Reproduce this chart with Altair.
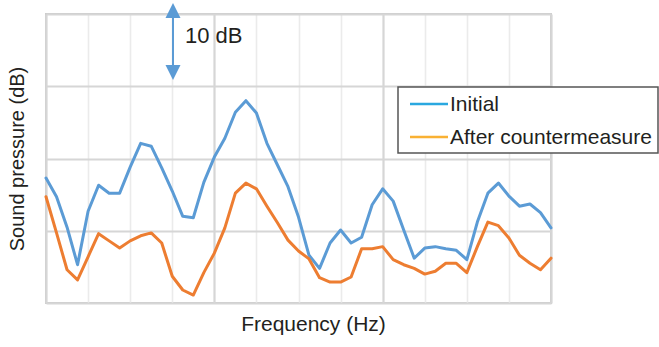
import altair as alt
import pandas as pd

freq_index = list(range(49))
initial_db = [17.3, 14.7, 10.5, 5.3, 12.7, 16.3, 15.2, 15.2, 18.8, 22.1, 21.7, 18.7, 15.5,
              12.0, 11.8, 16.7, 20.2, 22.8, 26.4, 28.0, 26.3, 22.1, 19.1, 16.1, 11.9,
              6.6, 4.8, 8.3, 10.1, 8.3, 9.1, 13.6, 15.8, 14.1, 10.1, 6.2, 7.6, 7.8,
              7.5, 7.3, 6.0, 11.2, 15.2, 16.6, 14.8, 13.4, 13.7, 12.5, 10.4]
after_db = [14.7, 9.7, 4.6, 3.2, 6.4, 9.6, 8.6, 7.6, 8.6, 9.3, 9.7, 8.3, 3.7,
            1.8, 1.1, 4.2, 6.9, 10.4, 15.2, 16.6, 15.8, 13.4, 11.1, 8.7, 7.2,
            6.1, 3.5, 2.9, 2.9, 3.6, 7.5, 7.5, 7.8, 6.0, 5.3, 4.8, 4.0, 4.4,
            5.5, 5.5, 4.2, 7.8, 11.2, 10.7, 9.0, 6.6, 5.5, 4.6, 6.2]
series_names = ["Initial", "After countermeasure"]
line_colors = ["#5b9bd5", "#ed7d31"]
legend_colors = ["#2aa8e0", "#f9b133"]
x_grid_values = list(range(0, 49, 4))
y_grid_values = [0, 10, 20, 30, 40]
scale_label = "10 dB"

FONT = "Liberation Sans"
TXT = "#231f20"

df = pd.DataFrame({
    "f": freq_index * 2,
    "db": initial_db + after_db,
    "series": [series_names[0]] * len(initial_db) + [series_names[1]] * len(after_db),
})

x_scale = alt.Scale(domain=[0, 48], nice=False, zero=False)
y_scale = alt.Scale(domain=[0, 40], nice=False)

lines = alt.Chart(df).mark_line(strokeWidth=3, strokeJoin="round", strokeCap="round").encode(
    x=alt.X("f:Q", scale=x_scale,
            axis=alt.Axis(values=x_grid_values, labels=False, ticks=False, domain=False, grid=True,
                          gridColor={"condition": {"test": "datum.value % 16 == 0", "value": "#d6d6d6"},
                                     "value": "#ebebeb"},
                          gridWidth={"condition": {"test": "datum.value % 16 == 0", "value": 2.2},
                                     "value": 1.6},
                          title="Frequency (Hz)", titleX=267, titleAlign="center",
                          titlePadding=10, titleFont=FONT, titleFontSize=21,
                          titleFontWeight="normal", titleColor=TXT)),
    y=alt.Y("db:Q", scale=y_scale,
            axis=alt.Axis(values=y_grid_values, labels=False, ticks=False, domain=False, grid=True,
                          gridColor="#d6d6d6", gridWidth=2.2,
                          title="Sound pressure (dB)", titlePadding=19, titleFont=FONT,
                          titleFontSize=20, titleFontWeight="normal", titleColor=TXT)),
    color=alt.Color("series:N", scale=alt.Scale(domain=series_names, range=line_colors), legend=None),
    detail="series:N",
)

one = alt.Data(values=[{}])

# legend box
box = alt.Chart(one).mark_rect(fill="white", stroke="#555555", strokeWidth=1.5).encode(
    x=alt.value(352), x2=alt.value(612), y=alt.value(73), y2=alt.value(139))
leg_parts = [box]
for i, (name, col) in enumerate(zip(series_names, legend_colors)):
    yy = 90 + i * 33
    leg_parts.append(alt.Chart(one).mark_rule(color=col, strokeWidth=2.5).encode(
        x=alt.value(364), x2=alt.value(402), y=alt.value(yy)))
    leg_parts.append(alt.Chart(one).mark_text(text=name, align="left", baseline="middle",
                                             font=FONT, fontSize=21, color=TXT).encode(
        x=alt.value(404), y=alt.value(yy + 1)))

# 10 dB scale arrow
arrow_col = "#5b9bd5"
arrow_rule = alt.Chart(one).mark_rule(color=arrow_col, strokeWidth=2).encode(
    x=alt.value(127), y=alt.value(-3), y2=alt.value(58))
arrow_up = alt.Chart(one).mark_point(shape="M0,-1L1,1L-1,1Z", size=225, filled=True,
                                     color=arrow_col, opacity=1).encode(
    x=alt.value(127), y=alt.value(-3.5))
arrow_down = alt.Chart(one).mark_point(shape="M0,1L1,-1L-1,-1Z", size=225, filled=True,
                                       color=arrow_col, opacity=1).encode(
    x=alt.value(127), y=alt.value(58.5))
arrow_text = alt.Chart(one).mark_text(text=scale_label, align="left", baseline="middle",
                                      font=FONT, fontSize=22, color=TXT).encode(
    x=alt.value(139), y=alt.value(22))

chart = alt.layer(lines, arrow_rule, arrow_up, arrow_down, arrow_text, *leg_parts).properties(
    width=505, height=289,
    autosize=alt.AutoSizeParams(type="none"),
    padding={"left": 46, "top": 14, "right": 108, "bottom": 44},
    background="white",
).configure_view(stroke="#cccccc", strokeWidth=2)

chart.save("out.html", embed_options={"renderer": "svg", "actions": False})
